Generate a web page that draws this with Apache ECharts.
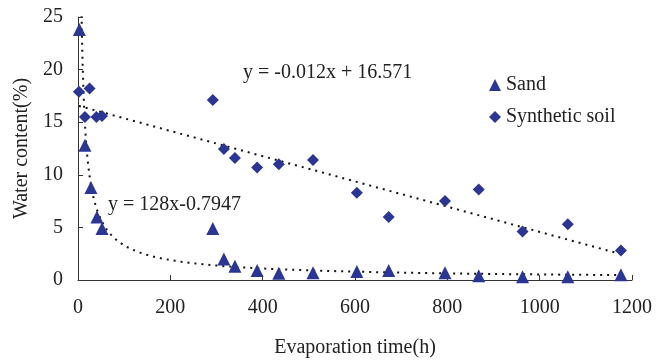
<!DOCTYPE html>
<html>
<head>
<meta charset="utf-8">
<script src="https://cdn.jsdelivr.net/npm/echarts@6/dist/echarts.min.js"></script>
<style>html,body{margin:0;padding:0;background:#fff}#c{width:666px;height:363px}</style>
</head>
<body>
<div id="c"></div>
<script>
// Sand
var sandX = [3, 15, 28, 41, 52, 292, 316, 340, 388, 435, 509, 604, 673, 795, 868, 963, 1061, 1176];
var sandY = [23.8, 12.8, 8.8, 6.0, 4.9, 4.9, 2.0, 1.3, 0.9, 0.65, 0.7, 0.8, 0.9, 0.7, 0.4, 0.3, 0.3, 0.5];
// Synthetic soil
var soilX = [2, 15, 25, 40, 52, 292, 316, 340, 388, 435, 509, 604, 673, 795, 868, 963, 1061, 1176];
var soilY = [17.9, 15.5, 18.2, 15.5, 15.6, 17.1, 12.45, 11.6, 10.7, 11.0, 11.4, 8.3, 6.0, 7.5, 8.6, 4.6, 5.3, 2.8];
// Trendline equations shown on the chart
var linearCoef = [-0.012, 16.571];   // y = a x + b
var powerCoef = [128, -0.7947];      // y = a x^b
var trendRange = [2, 1180];
var seriesNames = ['Sand', 'Synthetic soil'];
var xTicks = [0, 200, 400, 600, 800, 1000, 1200];
var yTicks = [0, 5, 10, 15, 20, 25];

function pairs(xs, ys){ return xs.map(function(x,i){ return [x, ys[i]]; }); }
var linLine = [[trendRange[0], linearCoef[0]*trendRange[0]+linearCoef[1]], [trendRange[1], linearCoef[0]*trendRange[1]+linearCoef[1]]];
var powLine = [];
for (var i = 0; i <= 200; i++) {
  var x = trendRange[0] * Math.pow(trendRange[1]/trendRange[0], i/200);
  powLine.push([x, powerCoef[0]*Math.pow(x, powerCoef[1])]);
}
var FONT = 'Liberation Serif';
var COLOR = '#2b3694';
var chart = echarts.init(document.getElementById('c'), null, {renderer:'canvas'});
chart.setOption({
  animation: false,
  backgroundColor: '#fff',
  textStyle: {fontFamily: FONT},
  grid: {left: 78, right: 34, top: 17, bottom: 79},
  xAxis: {
    type: 'value', min: xTicks[0], max: xTicks[xTicks.length-1], interval: 200,
    name: 'Evaporation time(h)', nameLocation: 'middle', nameGap: 58,
    nameTextStyle: {fontFamily: FONT, fontSize: 20, color: '#222'},
    axisLine: {lineStyle: {color: '#333', width: 1}},
    axisTick: {inside: true, length: 5, lineStyle: {color: '#333'}},
    axisLabel: {fontFamily: FONT, fontSize: 20, color: '#222', margin: 18, formatter: function(v){ return String(v); }},
    splitLine: {show: false}
  },
  yAxis: {
    type: 'value', min: yTicks[0], max: yTicks[yTicks.length-1], interval: 5,
    name: 'Water content(%)', nameLocation: 'middle', nameGap: 34, nameRotate: 90,
    nameTextStyle: {fontFamily: FONT, fontSize: 20, color: '#222'},
    axisLine: {show: true, lineStyle: {color: '#333', width: 1}},
    axisTick: {show: true, inside: true, length: 5, lineStyle: {color: '#333'}},
    axisLabel: {fontFamily: FONT, fontSize: 20, color: '#222', margin: 15},
    splitLine: {show: false}
  },
  legend: {
    data: seriesNames, orient: 'vertical', left: 484, top: 70, itemGap: 12,
    itemWidth: 12, itemHeight: 12,
    textStyle: {fontFamily: FONT, fontSize: 20, color: '#222'}
  },
  series: [
    {name: 'lin', type: 'line', data: linLine, symbol: 'none', silent: true, z: 1,
     lineStyle: {color: '#111', width: 2, type: [2, 5]}},
    {name: 'pow', type: 'line', data: powLine, symbol: 'none', silent: true, z: 1, clip: true,
     lineStyle: {color: '#111', width: 2, type: [2, 5]}},
    {name: seriesNames[0], type: 'scatter', data: pairs(sandX, sandY), symbol: 'triangle', symbolSize: 13,
     itemStyle: {color: COLOR, opacity: 1}, z: 3},
    {name: seriesNames[1], type: 'scatter', data: pairs(soilX, soilY), symbol: 'diamond', symbolSize: 12,
     itemStyle: {color: COLOR, opacity: 1}, z: 3}
  ],
  graphic: [
    {type: 'text', left: 243, top: 63, style: {text: 'y = -0.012x + 16.571', font: '20px "Liberation Serif"', fill: '#222'}},
    {type: 'text', left: 108, top: 195, style: {text: 'y = 128x-0.7947', font: '20px "Liberation Serif"', fill: '#222'}}
  ]
});
</script>
</body>
</html>
